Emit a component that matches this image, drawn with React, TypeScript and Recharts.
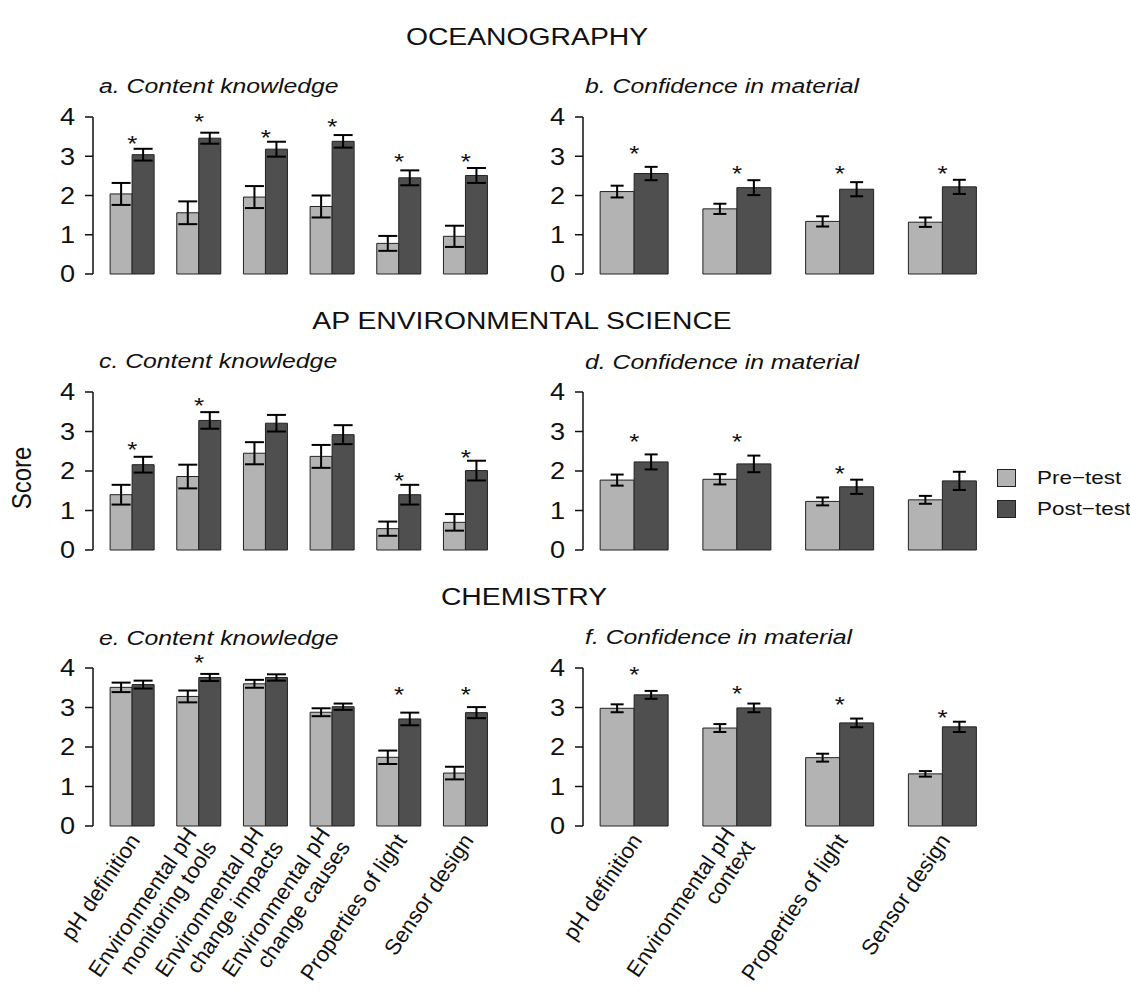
import { Bar, ComposedChart, ErrorBar, Legend, ReferenceDot, XAxis, YAxis } from 'recharts';

const leftTopics = [
  'pH definition',
  'Environmental pH\nmonitoring tools',
  'Environmental pH\nchange impacts',
  'Environmental pH\nchange causes',
  'Properties of light',
  'Sensor design',
];
const rightTopics = ['pH definition', 'Environmental pH\ncontext', 'Properties of light', 'Sensor design'];
const yTicks = [0, 1, 2, 3, 4];

// a. oceanography, content knowledge
const oceanKnowPre = [2.04, 1.56, 1.96, 1.72, 0.78, 0.96];
const oceanKnowPreErr = [0.28, 0.29, 0.28, 0.28, 0.19, 0.27];
const oceanKnowPost = [3.04, 3.46, 3.18, 3.38, 2.45, 2.51];
const oceanKnowPostErr = [0.15, 0.14, 0.19, 0.16, 0.19, 0.19];
const oceanKnowStar = [3.45, 4.0, 3.58, 3.88, 2.97, 2.97];

// b. oceanography, confidence
const oceanConfPre = [2.1, 1.66, 1.34, 1.32];
const oceanConfPreErr = [0.15, 0.13, 0.13, 0.12];
const oceanConfPost = [2.56, 2.2, 2.16, 2.22];
const oceanConfPostErr = [0.17, 0.19, 0.18, 0.18];
const oceanConfStar = [3.18, 2.68, 2.68, 2.68];

// c. AP environmental science, content knowledge
const apesKnowPre = [1.4, 1.86, 2.45, 2.37, 0.54, 0.7];
const apesKnowPreErr = [0.25, 0.3, 0.28, 0.29, 0.18, 0.21];
const apesKnowPost = [2.16, 3.28, 3.21, 2.92, 1.4, 2.01];
const apesKnowPostErr = [0.2, 0.21, 0.21, 0.24, 0.25, 0.25];
const apesKnowStar = [2.66, 3.76, null, null, 1.88, 2.45];

// d. AP environmental science, confidence
const apesConfPre = [1.77, 1.79, 1.23, 1.27];
const apesConfPreErr = [0.14, 0.13, 0.1, 0.1];
const apesConfPost = [2.23, 2.18, 1.6, 1.75];
const apesConfPostErr = [0.19, 0.21, 0.18, 0.23];
const apesConfStar = [2.86, 2.86, 2.06, null];

// e. chemistry, content knowledge
const chemKnowPre = [3.51, 3.28, 3.6, 2.88, 1.74, 1.34];
const chemKnowPreErr = [0.12, 0.15, 0.1, 0.1, 0.17, 0.16];
const chemKnowPost = [3.58, 3.76, 3.76, 3.02, 2.71, 2.87];
const chemKnowPostErr = [0.1, 0.09, 0.08, 0.08, 0.16, 0.14];
const chemKnowStar = [null, 4.25, null, null, 3.45, 3.45];

// f. chemistry, confidence
const chemConfPre = [2.98, 2.48, 1.73, 1.32];
const chemConfPreErr = [0.1, 0.1, 0.1, 0.07];
const chemConfPost = [3.32, 2.99, 2.61, 2.51];
const chemConfPostErr = [0.1, 0.11, 0.11, 0.13];
const chemConfStar = [3.96, 3.47, 3.18, 2.85];

const PRE = '#b3b3b3';
const POST = '#4f4f4f';
const FONT = '"Liberation Sans", Arial, Helvetica, sans-serif';
const SX = 1.18; // the figure is a little wider than tall
const keyOrder = ['pre', 'post'];

const NumTick = ({ x, y, payload }: any) => (
  <text transform={`translate(${x},${y}) scale(${SX},1)`} textAnchor="end" dy="0.36em" fontSize={23} fill="#111" fontFamily={FONT}>
    {payload.value}
  </text>
);

const SlantTick = ({ x, y, payload }: any) => {
  const lines = String(payload.value).split('\n');
  return (
    <text transform={`translate(${x + 2},${y + 10}) rotate(-56)`} textAnchor="end" fontSize={22} fill="#111" fontFamily={FONT}>
      {lines.map((s, i) => (
        <tspan key={i} x={0} y={(i - (lines.length - 1) / 2) * 24} dy="0.36em">
          {s}
        </tspan>
      ))}
    </text>
  );
};

const StarMark = ({ cx, cy }: any) => (
  <text transform={`translate(${cx},${cy + 12}) scale(${SX},1)`} textAnchor="middle" fontSize={22} fill="#111" fontFamily={FONT}>
    *
  </text>
);

const KeyBox = ({ payload }: any) => {
  const items = [...(payload || [])].sort((a: any, b: any) => keyOrder.indexOf(a.dataKey) - keyOrder.indexOf(b.dataKey));
  return (
    <div style={{ fontFamily: FONT }}>
      {items.map((p: any) => (
        <div key={p.value} style={{ display: 'flex', alignItems: 'center', height: 31 }}>
          <span style={{ width: 17, height: 16, background: p.color, border: '1px solid #222', marginRight: 21 }} />
          <span style={{ fontSize: 19, color: '#111', display: 'inline-block', transform: `scaleX(${SX})`, transformOrigin: 'left center', whiteSpace: 'nowrap' }}>
            {p.value}
          </span>
        </div>
      ))}
    </div>
  );
};

type PanelProps = {
  topics: string[];
  pre: number[];
  preErr: number[];
  post: number[];
  postErr: number[];
  star: (number | null)[];
  left: number;
  top: number;
  wide: boolean;
  plotH: number;
  labels?: boolean;
  legend?: boolean;
};

function Panel({ topics, pre, preErr, post, postErr, star, left, top, wide, plotH, labels, legend }: PanelProps) {
  const rows = topics.map((topic, i) => ({ topic, pre: pre[i], preErr: preErr[i], post: post[i], postErr: postErr[i] }));
  const width = wide ? 520 : 610;
  const bottom = labels ? 0 : 16;
  const margin = wide ? { top: 30, right: 15, bottom, left: 48 } : { top: 30, right: 136, bottom, left: 18 };
  const pad = wide ? 6 : 0;
  const cap = wide ? 9.5 : 6.5;
  const axisH = labels ? 166 : 0;
  return (
    <div style={{ position: 'absolute', left, top }}>
      <ComposedChart width={width} height={30 + plotH + axisH + bottom} data={rows} margin={margin} barCategoryGap="16.67%" barGap={0}>
        <XAxis
          dataKey="topic"
          hide={!labels}
          height={axisH}
          axisLine={false}
          tickLine={false}
          tickSize={0}
          tickMargin={0}
          interval={0}
          padding={{ left: pad, right: pad }}
          tick={(p: any) => <SlantTick {...p} />}
        />
        <YAxis
          domain={[0, 4]}
          ticks={yTicks}
          interval={0}
          width={45}
          tickSize={8}
          tickMargin={10}
          axisLine={{ stroke: '#111', strokeWidth: 1.5 }}
          tickLine={{ stroke: '#111', strokeWidth: 1.5 }}
          tick={(p: any) => <NumTick {...p} />}
        />
        <Bar dataKey="pre" name="Pre−test" fill={PRE} stroke="#222" strokeWidth={1} isAnimationActive={false}>
          <ErrorBar dataKey="preErr" width={cap} stroke="#000" strokeWidth={2} />
        </Bar>
        <Bar dataKey="post" name="Post−test" fill={POST} stroke="#222" strokeWidth={1} isAnimationActive={false}>
          <ErrorBar dataKey="postErr" width={cap} stroke="#000" strokeWidth={2} />
        </Bar>
        {topics.map((t, i) =>
          star[i] == null ? null : (
            <ReferenceDot key={i} x={t} y={star[i] as number} ifOverflow="visible" shape={(p: any) => <StarMark {...p} />} />
          ),
        )}
        {legend && (
          <Legend
            layout="vertical"
            align="center"
            verticalAlign="middle"
            wrapperStyle={{ left: 477, top: 100, width: 150 }}
            content={(p: any) => <KeyBox {...p} />}
          />
        )}
      </ComposedChart>
    </div>
  );
}

const sectionStyle = { fontSize: 24, fill: '#111' };
const titleStyle = { fontSize: 21, fontStyle: 'italic' as const, fill: '#111' };

export default function App() {
  return (
    <div style={{ position: 'absolute', left: 0, top: 0, width: 1130, height: 992, background: '#fff', fontFamily: FONT, overflow: 'hidden' }}>
      <Panel topics={leftTopics} pre={oceanKnowPre} preErr={oceanKnowPreErr} post={oceanKnowPost} postErr={oceanKnowPostErr} star={oceanKnowStar} left={0} top={87} wide plotH={157} />
      <Panel topics={rightTopics} pre={oceanConfPre} preErr={oceanConfPreErr} post={oceanConfPost} postErr={oceanConfPostErr} star={oceanConfStar} left={520} top={87} wide={false} plotH={157} />
      <Panel topics={leftTopics} pre={apesKnowPre} preErr={apesKnowPreErr} post={apesKnowPost} postErr={apesKnowPostErr} star={apesKnowStar} left={0} top={362} wide plotH={158} />
      <Panel topics={rightTopics} pre={apesConfPre} preErr={apesConfPreErr} post={apesConfPost} postErr={apesConfPostErr} star={apesConfStar} left={520} top={362} wide={false} plotH={158} legend />
      <Panel topics={leftTopics} pre={chemKnowPre} preErr={chemKnowPreErr} post={chemKnowPost} postErr={chemKnowPostErr} star={chemKnowStar} left={0} top={638} wide plotH={158} labels />
      <Panel topics={rightTopics} pre={chemConfPre} preErr={chemConfPreErr} post={chemConfPost} postErr={chemConfPostErr} star={chemConfStar} left={520} top={638} wide={false} plotH={158} labels />

      <svg width={1130} height={992} style={{ position: 'absolute', left: 0, top: 0, pointerEvents: 'none' }} fontFamily={FONT}>
        <text transform={`translate(527,45) scale(${SX},1)`} textAnchor="middle" {...sectionStyle}>OCEANOGRAPHY</text>
        <text transform={`translate(522,329) scale(${SX},1)`} textAnchor="middle" {...sectionStyle}>AP ENVIRONMENTAL SCIENCE</text>
        <text transform={`translate(524,605) scale(${SX},1)`} textAnchor="middle" {...sectionStyle}>CHEMISTRY</text>

        <text transform={`translate(99,93) scale(${SX},1)`} {...titleStyle}>a. Content knowledge</text>
        <text transform={`translate(585,93) scale(${SX},1)`} {...titleStyle}>b. Confidence in material</text>
        <text transform={`translate(99,368) scale(${SX},1)`} {...titleStyle}>c. Content knowledge</text>
        <text transform={`translate(585,369) scale(${SX},1)`} {...titleStyle}>d. Confidence in material</text>
        <text transform={`translate(99,645) scale(${SX},1)`} {...titleStyle}>e. Content knowledge</text>
        <text transform={`translate(585,644) scale(${SX},1)`} {...titleStyle}>f. Confidence in material</text>

        <text transform={`translate(31,478) scale(${SX},1) rotate(-90)`} textAnchor="middle" fontSize={24} fill="#111">Score</text>
      </svg>
    </div>
  );
}
